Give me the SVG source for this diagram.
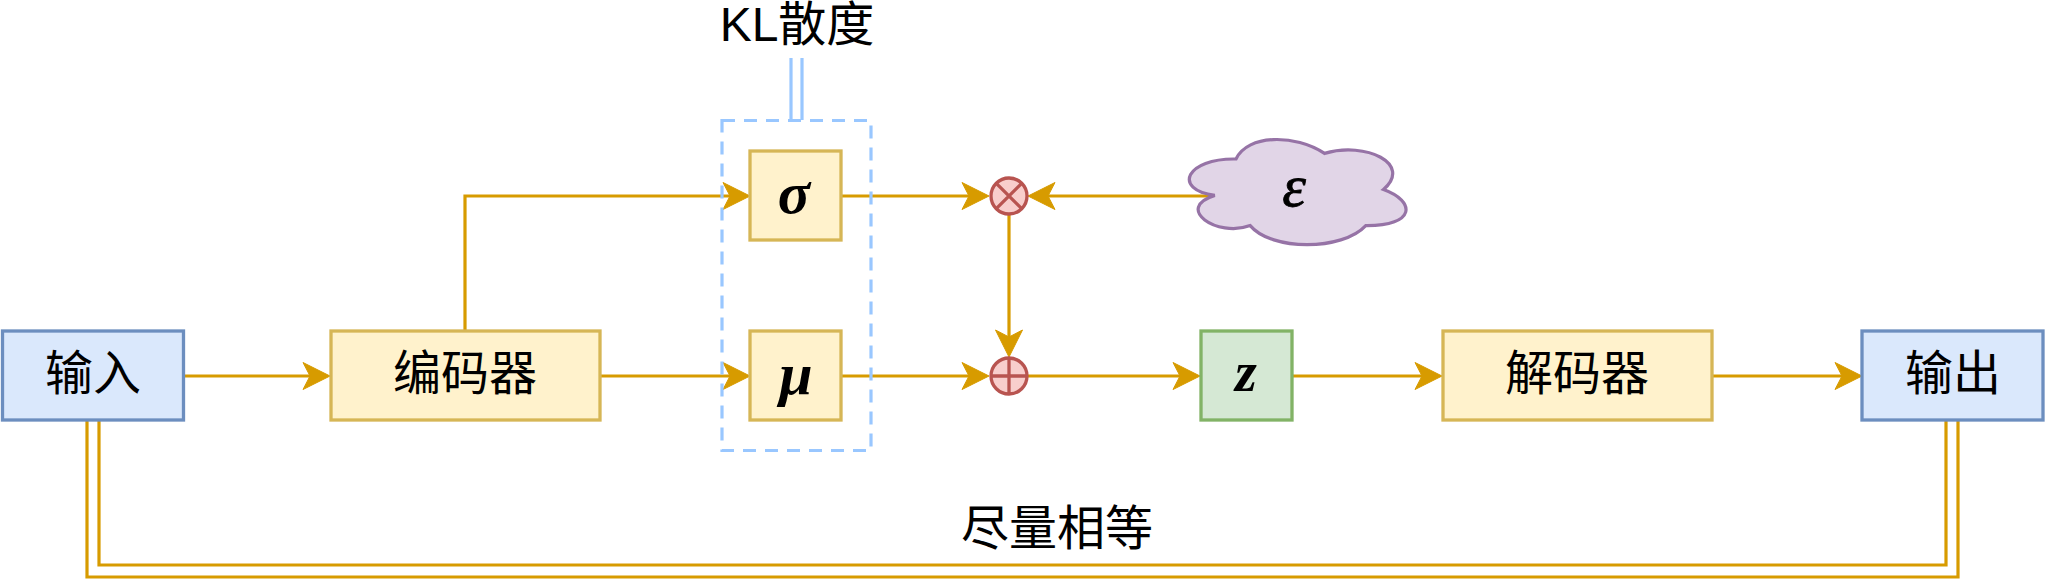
<svg xmlns="http://www.w3.org/2000/svg" width="2046" height="579" viewBox="0 0 2046 579">
<style>
.b{stroke-width:3.300}
.blue{fill:#dae8fc;stroke:#6c8ebf}
.yel{fill:#fff2cc;stroke:#d6b656}
.grn{fill:#d5e8d4;stroke:#82b366}
.red{fill:#f8cecc;stroke:#b85450;stroke-width:3.300}
.redl{fill:none;stroke:#b85450;stroke-width:3.300}
.c{fill:none;stroke:#d79b00;stroke-width:3.200}
.a{marker-end:url(#arrow)}
.k{fill:none;stroke:#99c7ff;stroke-width:3.200}
text{fill:#000;text-anchor:middle;dominant-baseline:central}
.t{font-family:"Liberation Sans","Noto Sans CJK SC",sans-serif;font-size:48px}
.m{font-family:"Liberation Serif",serif;font-style:italic;font-weight:bold;font-size:60px}
</style>
<defs>
<marker id="arrow" markerUnits="userSpaceOnUse" markerWidth="34" markerHeight="34" refX="20" refY="17" orient="auto" viewBox="0 0 34 34">
<path d="M30 17L3 3.500L10 17L3 30.500Z" fill="#d79b00" stroke="#d79b00" stroke-width="1"/>
</marker>
</defs>
<g id="connectors">
<path class="c a" d="M184 376H320"/>
<path class="c a" d="M600 376H740"/>
<path class="c a" d="M465 330V196H740"/>
<path class="c a" d="M841 196H979"/>
<path class="c a" d="M1212 196H1038"/>
<path class="c a" d="M841 376H979"/>
<path class="c a" d="M1009 215V347"/>
<path class="c a" d="M1028 376H1190"/>
<path class="c a" d="M1292 376H1432"/>
<path class="c a" d="M1712 376H1852"/>
<path class="c" d="M87 420V577H1958V420"/>
<path class="c" d="M99 420V565H1946V420"/>
<path class="k" d="M791 58V120M802 58V120"/>
</g>
<g id="kl-group"><rect x="722" y="120.500" width="149" height="330" fill="none" stroke="#99c7ff" stroke-width="3.200" stroke-dasharray="13 9"/></g>
<g id="input"><rect class="b blue" x="2.500" y="331" width="181" height="89"/><text class="t" x="93" y="373">输入</text></g>
<g id="encoder"><rect class="b yel" x="331" y="331" width="269" height="89"/><text class="t" x="465" y="373">编码器</text></g>
<g id="sigma"><rect class="b yel" x="750" y="151" width="91" height="89"/><text class="m" x="794" y="193">σ</text></g>
<g id="mu"><rect class="b yel" x="750" y="331" width="91" height="89"/><text class="m" x="796" y="374">μ</text></g>
<g id="multiply"><circle class="red" cx="1009" cy="196" r="18"/><path class="redl" d="M996.300 183.300L1021.700 208.700M1021.700 183.300L996.300 208.700"/></g>
<g id="add"><circle class="red" cx="1009" cy="376" r="18"/><path class="redl" d="M991 376H1027M1009 358V394"/></g>
<g id="epsilon"><path d="M1236 159C1186 158 1172 189.500 1214.800 195.350C1174 208.200 1217 238 1250.200 225.600C1271.400 251 1342.200 251 1365.800 225.600C1416 226 1416 201.200 1383.500 189.500C1413 164 1365.800 141 1324.500 153.400C1295 134 1247.800 134 1236 159Z" fill="#e1d5e7" stroke="#9673a6" stroke-width="3.200"/><text class="m" x="1294" y="186" style="font-weight:normal;stroke:#000;stroke-width:.8">ε</text></g>
<g id="z"><rect class="b grn" x="1201" y="331" width="91" height="89"/><text class="m" x="1246" y="372" style="font-size:56px">z</text></g>
<g id="decoder"><rect class="b yel" x="1443" y="331" width="269" height="89"/><text class="t" x="1577" y="373">解码器</text></g>
<g id="output"><rect class="b blue" x="1862" y="331" width="181" height="89"/><text class="t" x="1953" y="373">输出</text></g>
<text class="t" x="797" y="24">KL散度</text>
<text class="t" x="1057" y="528">尽量相等</text>
</svg>
